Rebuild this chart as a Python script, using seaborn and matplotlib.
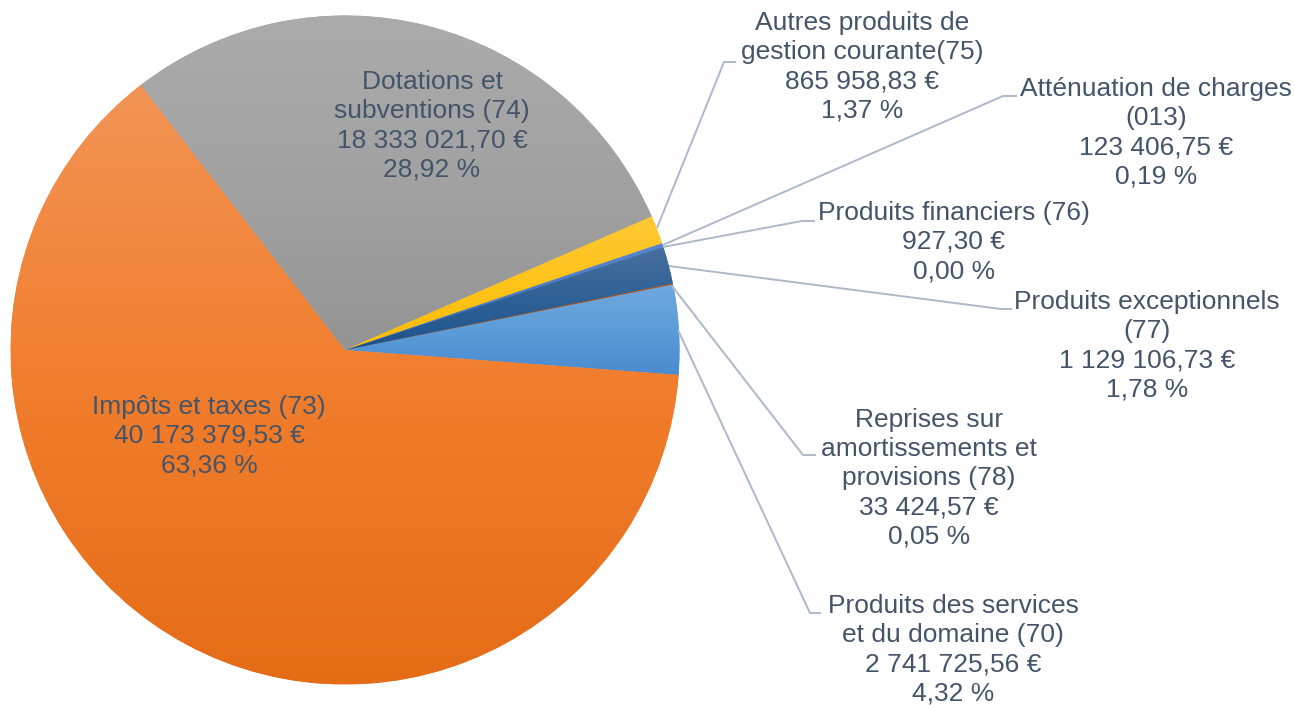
import numpy as np
import matplotlib
matplotlib.use("Agg")
import matplotlib.pyplot as plt
import matplotlib.colors as mcolors
import seaborn as sns

# ---- data (Excel series order) ----
labels = [
    "Produits des services\net du domaine (70)",
    "Impôts et taxes (73)",
    "Dotations et\nsubventions (74)",
    "Autres produits de\ngestion courante(75)",
    "Atténuation de charges\n(013)",
    "Produits financiers (76)",
    "Produits exceptionnels\n(77)",
    "Reprises sur\namortissements et\nprovisions (78)",
]
values = [2741725.56, 40173379.53, 18333021.70, 865958.83,
          123406.75, 927.30, 1129106.73, 33424.57]
amount_text = ["2 741 725,56 €", "40 173 379,53 €", "18 333 021,70 €", "865 958,83 €",
               "123 406,75 €", "927,30 €", "1 129 106,73 €", "33 424,57 €"]
pct_text = ["4,32 %", "63,36 %", "28,92 %", "1,37 %", "0,19 %", "0,00 %", "1,78 %", "0,05 %"]

base_colors = ["#5B9BD5", "#ED7D31", "#A5A5A5", "#FFC000",
               "#4472C4", "#70AD47", "#255E91", "#9E480E"]
# three-stop vertical gradients (top, middle, bottom)
grad_stops = [
    ("#70A8DE", "#5C9CD8", "#4A8BD0"),
    ("#F39456", "#F17E2D", "#E56C17"),
    ("#ABABAB", "#A2A2A2", "#949494"),
    ("#FFC935", "#FFC31A", "#FFBD00"),
    ("#5A86D0", "#4C79C6", "#3F6BBC"),
    ("#80BA58", "#72AE48", "#629F3C"),
    ("#47709D", "#2E6195", "#1D538E"),
    ("#B0582A", "#A04B12", "#944008"),
]

sns.set_theme(style="white")
plt.rcParams["font.family"] = ["Liberation Sans", "DejaVu Sans"]

W, H = 1295, 709
fig = plt.figure(figsize=(W / 100, H / 100), dpi=100)
ax = fig.add_axes([0, 0, 1, 1])

cx, cy, R = 345, H - 350, 334.5
wedges, _ = ax.pie(values, colors=base_colors, startangle=11.3, counterclock=False,
                   center=(cx, cy), radius=R, frame=True,
                   wedgeprops=dict(linewidth=0))
ax.set_xlim(0, W)
ax.set_ylim(0, H)
ax.set_aspect("auto")
ax.axis("off")

# gradient fill for each wedge
for w, (ct, cm, cb) in zip(wedges, grad_stops):
    bb = w.get_path().get_extents(w.get_patch_transform())
    x0, y0, x1, y1 = bb.x0, bb.y0, bb.x1, bb.y1
    if y1 - y0 < 1:
        continue
    cmap = mcolors.LinearSegmentedColormap.from_list("g", [ct, cm, cb])
    t = np.linspace(0, 1, 256)
    img = cmap(t)[:, None, :3]
    im = ax.imshow(img, extent=(x0, x1, y0, y1), origin="upper",
                   aspect="auto", interpolation="bilinear", zorder=w.get_zorder() + 0.1)
    im.set_clip_path(w)
ax.set_xlim(0, W)
ax.set_ylim(0, H)

text_color = "#44546A"
line_color = "#ADB9CA"
fs = 19

# label centers (image pixel coords) and leader lines
label_pos = {
    0: (953, 650),
    1: (209, 436),
    2: (432, 126),
    3: (862, 67),
    4: (1156, 133),
    5: (954, 242),
    6: (1147, 346),
    7: (929, 478),
}
leaders = {
    3: [(657, 228), (724, 62), (736, 62)],
    4: [(663, 245), (1003, 96), (1017, 96)],
    5: [(663, 247), (802, 221), (815, 221)],
    6: [(669, 266), (1001, 309), (1012, 309)],
    7: [(672, 286), (803, 455), (816, 455)],
    0: [(678, 330), (810, 613), (821, 613)],
}

for i, (lab, am, pc) in enumerate(zip(labels, amount_text, pct_text)):
    x, y = label_pos[i]
    ax.text(x, H - y, f"{lab}\n{am}\n{pc}", ha="center", va="center",
            multialignment="center", fontsize=fs, color=text_color,
            linespacing=1.27, zorder=10)

for i, pts in leaders.items():
    xs = [p[0] for p in pts]
    ys = [H - p[1] for p in pts]
    ax.plot(xs, ys, color=line_color, lw=1.4, zorder=5, solid_capstyle="butt")

fig.savefig("out.png", dpi=100)
